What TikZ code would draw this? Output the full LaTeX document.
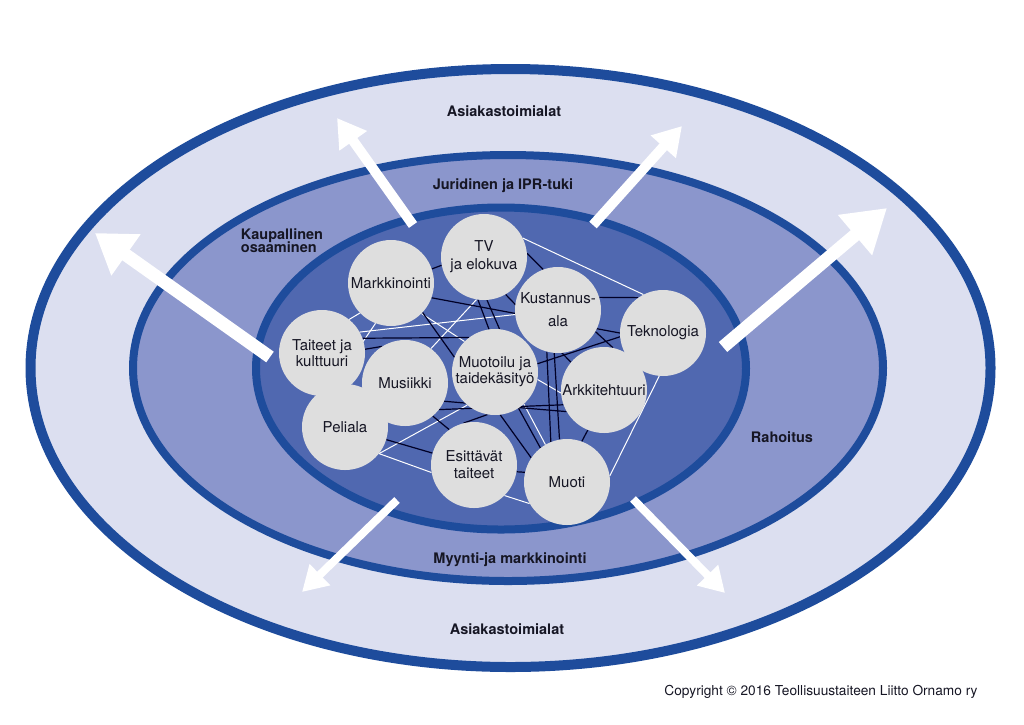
\documentclass[tikz,border=0pt]{standalone}
\usepackage{fontspec}
\setmainfont{TeX Gyre Heros}
\usepackage{tikz}
\usetikzlibrary{arrows.meta}
\definecolor{outerring}{RGB}{220,223,240}
\definecolor{middlering}{RGB}{139,150,204}
\definecolor{innerring}{RGB}{80,104,176}
\definecolor{ringborder}{RGB}{30,76,156}
\definecolor{ballgray}{RGB}{222,222,222}
\definecolor{inktext}{RGB}{22,22,36}
\pgfdeclarelayer{rings}
\pgfdeclarelayer{links}
\pgfsetlayers{rings,links,main}

\begin{document}
\begin{tikzpicture}[x=1pt,y=-1pt,
  topic/.style={circle,fill=ballgray,minimum size=86pt,inner sep=0pt,align=center,text=inktext,font=\fontsize{15}{16}\selectfont},
  ringlabel/.style={text=inktext,align=left,font=\fontsize{14.5}{15}\selectfont\bfseries},
  wlink/.style={white,line width=1pt},
  blink/.style={black!85!blue,line width=1.2pt},
  outarrow/.style={white,line width=#1}]
\useasboundingbox (0,0) rectangle (1024,724);
%Rings
\begin{pgfonlayer}{rings}
\draw [fill=outerring,draw=ringborder,line width=10pt] (510.5,368) ellipse [x radius=480pt,y radius=299pt];
\draw [fill=middlering,draw=ringborder,line width=8pt] (508,368) ellipse [x radius=375pt,y radius=213pt];
\draw [fill=innerring,draw=ringborder,line width=8pt] (501,368.5) ellipse [x radius=245pt,y radius=161pt];
\end{pgfonlayer}
%Ring Labels
\node at (504,111) [ringlabel] (AsiakasTop) {Asiakastoimialat};
\node at (503,186) [ringlabel] (Juridinen) {Juridinen ja IPR-tuki};
\node at (282,241) [ringlabel] (Kaupallinen) {Kaupallinen\\[-2pt]osaaminen};
\node at (782,437) [ringlabel] (Rahoitus) {Rahoitus};
\node at (510,560) [ringlabel] (Myynti) {Myynti-ja markkinointi};
\node at (507,629) [ringlabel] (AsiakasBottom) {Asiakastoimialat};
%Topic Circles
\node at (484,257) [topic] (TV) {TV\\[2pt]ja elokuva};
\node at (391,283) [topic] (Markkinointi) {Markkinointi};
\node at (558,310) [topic] (Kustannus) {Kustannus-\\[7pt]ala};
\node at (663,333) [topic] (Teknologia) {Teknologia};
\node at (322,353) [topic] (Taiteet) {Taiteet ja\\kulttuuri};
\node at (405,383) [topic] (Musiikki) {Musiikki};
\node at (495,372) [topic] (Muotoilu) {Muotoilu ja\\taidekäsityö};
\node at (604,390) [topic] (Arkkitehtuuri) {Arkkitehtuuri};
\node at (345,427) [topic] (Peliala) {Peliala};
\node at (474,465) [topic] (Esittavat) {Esittävät\\[1pt]taiteet};
\node at (567,482) [topic] (Muoti) {Muoti};
%connections
\begin{pgfonlayer}{links}
\draw [wlink] (TV.26) -- (Teknologia.117);
\draw [wlink] (Teknologia.-95) -- (Muoti.8);
\draw [wlink] (Esittavat.-45) -- (Muoti.-150);
\draw [wlink] (Peliala.-38) -- (Esittavat.-170);
\draw [wlink] (Peliala.-38) -- (Muotoilu.-130);
\draw [wlink] (Taiteet.51) -- (Markkinointi.-136);
\draw [wlink] (Taiteet.29) -- (Kustannus.-174);
\draw [wlink] (Markkinointi.-111) -- (Peliala.106);
\draw [wlink] (Markkinointi.-45) -- (Muotoilu.135);
\draw [wlink] (TV.-100) -- (Musiikki.53);
\draw [wlink] (Muotoilu.-10) -- (Arkkitehtuuri.-176);
\draw [wlink] (Muotoilu.-48) -- (Muoti.120);
\draw [blink] (Markkinointi.19) -- (TV.-169);
\draw [blink] (Markkinointi.-20) -- (Teknologia.180);
\draw [blink] (Taiteet.20) -- (Muotoilu.127);
\draw [blink] (Taiteet.5) -- (Musiikki.122);
\draw [blink] (Markkinointi.-43) -- (Muotoilu.160);
\draw [blink] (TV.-98) -- (Muotoilu.98);
\draw [blink] (TV.-86) -- (Muotoilu.84);
\draw [blink] (TV.5) -- (Kustannus.110);
\draw [blink] (TV.-60) -- (Arkkitehtuuri.140);
\draw [blink] (Kustannus.17) -- (Teknologia.125);
\draw [blink] (Kustannus.-30) -- (Arkkitehtuuri.78);
\draw [blink] (Muotoilu.11) -- (Teknologia.185);
\draw [blink] (Kustannus.-105) -- (Muoti.112);
\draw [blink] (Kustannus.-95) -- (Muoti.100);
\draw [blink] (Muotoilu.-83) -- (Muoti.146);
\draw [blink] (Muotoilu.-57) -- (Muoti.128);
\draw [blink] (Musiikki.-25) -- (Arkkitehtuuri.-150);
\draw [blink] (Musiikki.-38) -- (Arkkitehtuuri.-160);
\draw [blink] (Arkkitehtuuri.-112) -- (Muoti.70);
\draw [blink] (Esittavat.-9) -- (Muoti.167);
\draw [blink] (Muotoilu.-100) -- (Esittavat.104);
\draw [blink] (Peliala.-17) -- (Esittavat.164);
\draw [blink] (Musiikki.-50) -- (Esittavat.125);
\end{pgfonlayer}
%Arrows
\coordinate (TailNW) at (270,357);  \coordinate (TipNW) at (95,233);
\coordinate (TailN) at (413,225);   \coordinate (TipN) at (337,118);
\coordinate (TailNE) at (593,225);  \coordinate (TipNE) at (682,126);
\coordinate (TailE) at (723,347);   \coordinate (TipE) at (887,208);
\coordinate (TailSW) at (397,500);  \coordinate (TipSW) at (302,592);
\coordinate (TailSE) at (633,499);  \coordinate (TipSE) at (725,593);
\draw [outarrow=13pt,-{Triangle[length=38pt,width=48pt]}] (TailNW) -- (TipNW);
\draw [outarrow=10pt,-{Triangle[length=28pt,width=32pt]}] (TailN) -- (TipN);
\draw [outarrow=10pt,-{Triangle[length=28pt,width=32pt]}] (TailNE) -- (TipNE);
\draw [outarrow=13pt,-{Triangle[length=42pt,width=50pt]}] (TailE) -- (TipE);
\draw [outarrow=8pt,-{Triangle[length=25pt,width=28pt]}] (TailSW) -- (TipSW);
\draw [outarrow=8pt,-{Triangle[length=25pt,width=28pt]}] (TailSE) -- (TipSE);
%Copyright
\node at (821,692) [text=inktext,font=\fontsize{13.7}{15}\selectfont] (Copyright) {Copyright © 2016 Teollisuustaiteen Liitto Ornamo ry};
\end{tikzpicture}
\end{document}
